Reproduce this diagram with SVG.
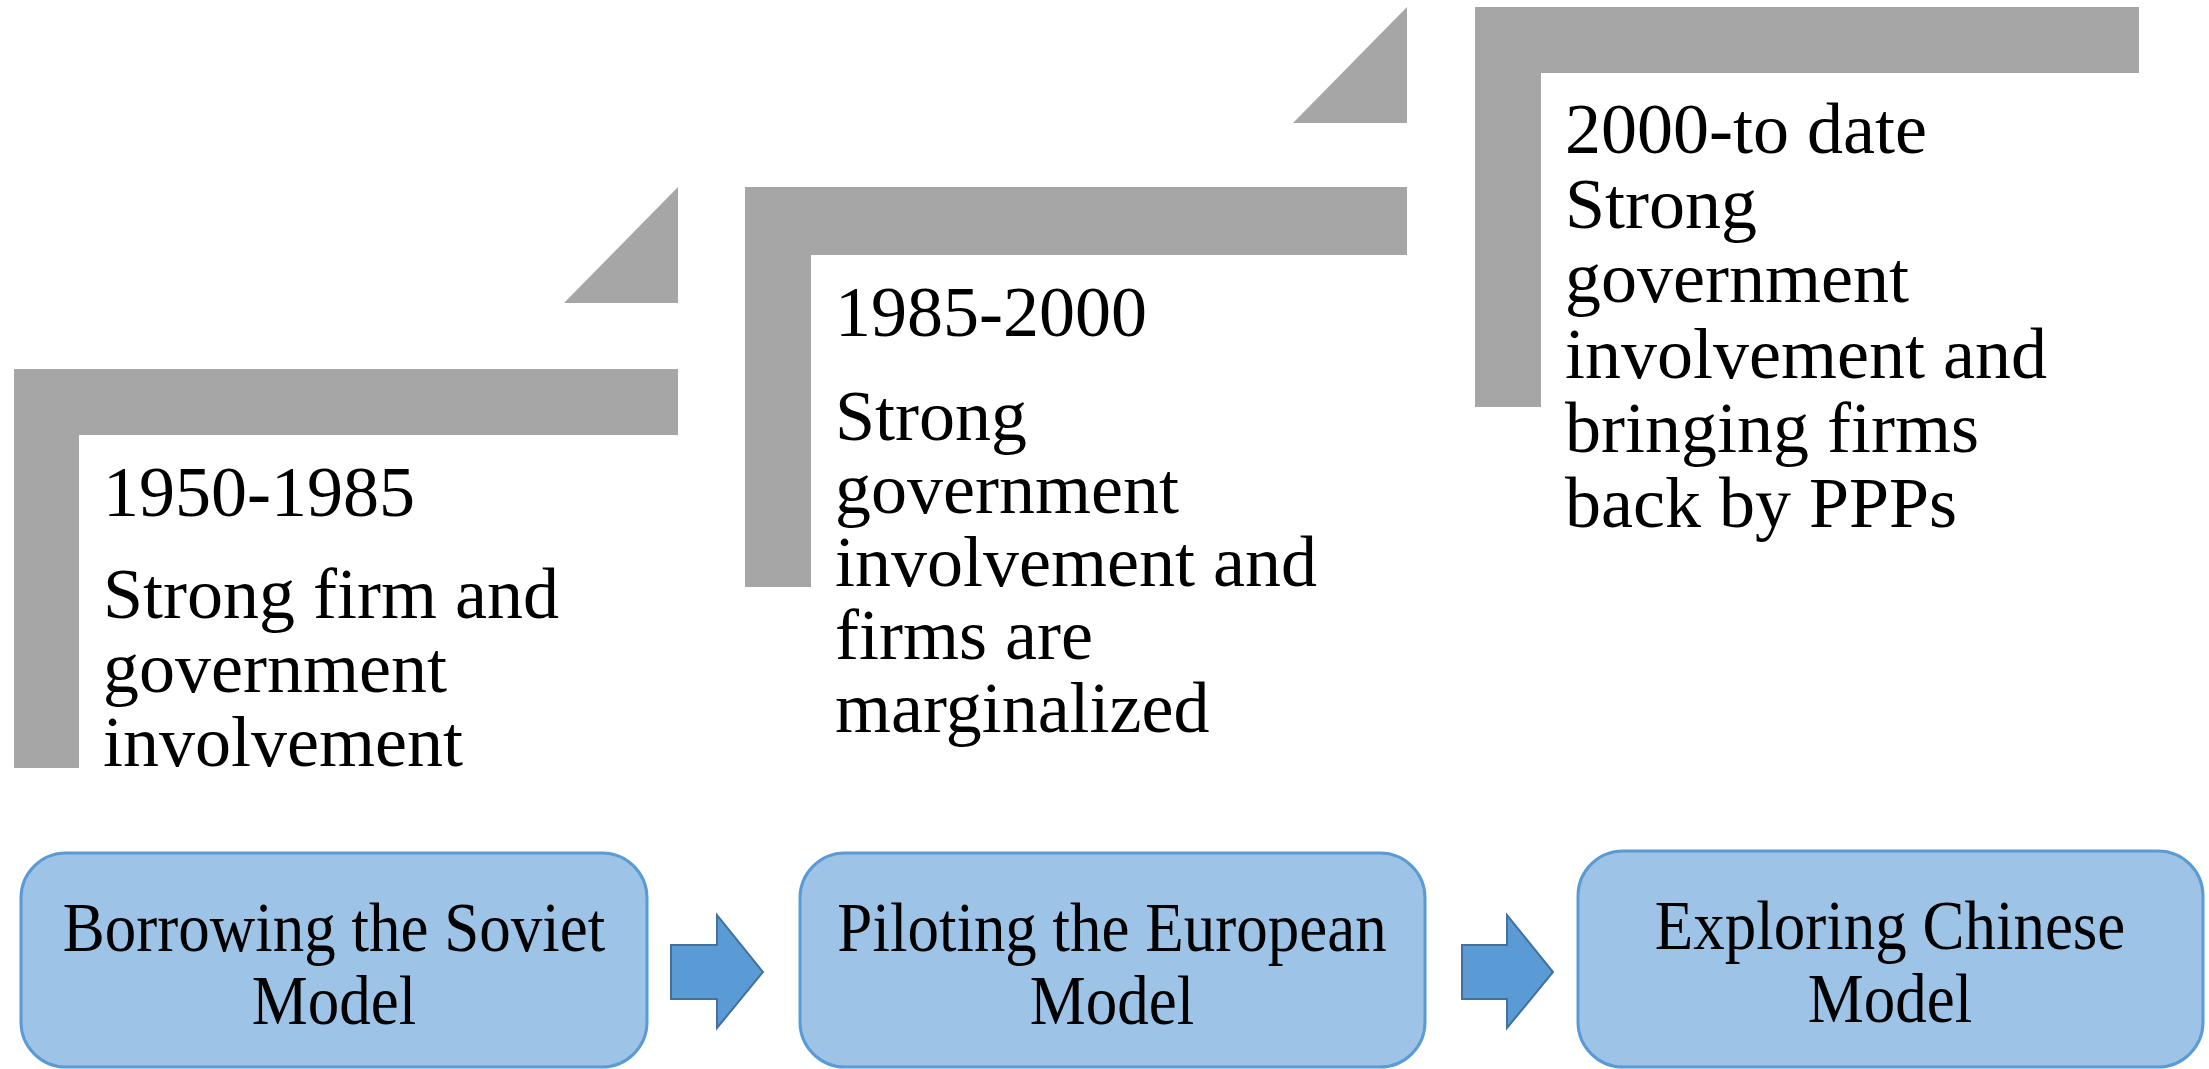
<svg xmlns="http://www.w3.org/2000/svg" width="2209" height="1069" viewBox="0 0 2209 1069">
<style>
.bar{fill:#A6A6A6}
.t{font-family:"Liberation Serif","Times New Roman",serif;font-size:72px;fill:#000}
.box{fill:#9DC3E6;stroke:#5B9BD5;stroke-width:3}
.bt{font-family:"Liberation Serif","Times New Roman",serif;font-size:63px;fill:#000;text-anchor:middle}
.arr{fill:#5B9BD5;stroke:#41719C;stroke-width:2}
</style>
<rect width="2209" height="1069" fill="#fff"/>
<g id="step1">
<path class="bar" d="M14,369 H678 V435 H79 V768 H14 Z"/>
<polygon class="bar" points="564,303 678,187 678,303"/>
<text class="t" x="103" y="516">1950-1985</text>
<text class="t" x="103" y="618">Strong firm and</text>
<text class="t" x="103" y="692">government</text>
<text class="t" x="103" y="766">involvement</text>
</g>
<g id="step2">
<path class="bar" d="M745,187 H1407 V255 H811 V587 H745 Z"/>
<polygon class="bar" points="1293,123 1407,7 1407,123"/>
<text class="t" x="835" y="336">1985-2000</text>
<text class="t" x="835" y="440">Strong</text>
<text class="t" x="835" y="513">government</text>
<text class="t" x="835" y="586">involvement and</text>
<text class="t" x="835" y="659">firms are</text>
<text class="t" x="835" y="732">marginalized</text>
</g>
<g id="step3">
<path class="bar" d="M1475,7 H2139 V73 H1541 V407 H1475 Z"/>
<text class="t" x="1565" y="153">2000-to date</text>
<text class="t" x="1565" y="228">Strong</text>
<text class="t" x="1565" y="302">government</text>
<text class="t" x="1565" y="378">involvement and</text>
<text class="t" x="1565" y="452">bringing firms</text>
<text class="t" x="1565" y="527">back by PPPs</text>
</g>
<g id="model1">
<rect class="box" x="21" y="853" width="626" height="214" rx="45" ry="45"/>
<text class="bt" transform="translate(334,951) scale(1,1.12)">Borrowing the Soviet</text>
<text class="bt" transform="translate(334,1024) scale(1,1.12)">Model</text>
</g>
<g id="model2">
<rect class="box" x="800" y="853" width="625" height="214" rx="45" ry="45"/>
<text class="bt" transform="translate(1112,951) scale(1,1.12)">Piloting the European</text>
<text class="bt" transform="translate(1112,1024) scale(1,1.12)">Model</text>
</g>
<g id="model3">
<rect class="box" x="1578" y="851" width="625" height="216" rx="45" ry="45"/>
<text class="bt" transform="translate(1890,949) scale(1,1.12)">Exploring Chinese</text>
<text class="bt" transform="translate(1890,1022) scale(1,1.12)">Model</text>
</g>
<g id="connectors">
<polygon class="arr" points="671,945 717,945 717,915 763,972 717,1028 717,999 671,999"/>
<polygon class="arr" points="1462,945 1507,945 1507,915 1553,972 1507,1028 1507,999 1462,999"/>
</g>
</svg>
